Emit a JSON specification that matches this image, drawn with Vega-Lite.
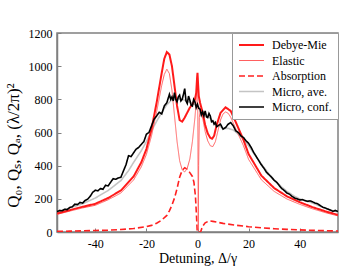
{
  "$schema": "https://vega.github.io/schema/vega-lite/v6.json",
  "width": 281,
  "height": 199,
  "autosize": {"type": "none"},
  "padding": {"left": 57, "top": 33, "right": 18, "bottom": 38},
  "background": "white",
  "config": {
    "font": "Liberation Serif",
    "view": {"stroke": "#808080", "strokeWidth": 1.5},
    "axis": {"labelFont": "Liberation Serif", "titleFont": "Liberation Serif", "labelColor": "#000", "titleColor": "#000", "titleFontWeight": "normal", "grid": false, "domainColor": "#808080", "tickColor": "#808080", "domainWidth": 1.5},
    "legend": {"labelFont": "Liberation Serif", "labelFontSize": 12, "labelColor": "#000"}
  },
  "datasets": {
    "d": [
      {"s": "Debye-Mie", "x": -55, "y": 112}, {"s": "Debye-Mie", "x": -50, "y": 132}, {"s": "Debye-Mie", "x": -45, "y": 152},
      {"s": "Debye-Mie", "x": -40, "y": 170}, {"s": "Debye-Mie", "x": -35, "y": 205}, {"s": "Debye-Mie", "x": -30, "y": 250},
      {"s": "Debye-Mie", "x": -25, "y": 335}, {"s": "Debye-Mie", "x": -22, "y": 420}, {"s": "Debye-Mie", "x": -20, "y": 500},
      {"s": "Debye-Mie", "x": -18, "y": 620}, {"s": "Debye-Mie", "x": -16, "y": 780}, {"s": "Debye-Mie", "x": -14, "y": 960},
      {"s": "Debye-Mie", "x": -13, "y": 1045}, {"s": "Debye-Mie", "x": -12, "y": 1085}, {"s": "Debye-Mie", "x": -11, "y": 1070},
      {"s": "Debye-Mie", "x": -10, "y": 1000}, {"s": "Debye-Mie", "x": -9, "y": 880}, {"s": "Debye-Mie", "x": -8, "y": 760},
      {"s": "Debye-Mie", "x": -7, "y": 675}, {"s": "Debye-Mie", "x": -6, "y": 665}, {"s": "Debye-Mie", "x": -5, "y": 690},
      {"s": "Debye-Mie", "x": -4, "y": 720}, {"s": "Debye-Mie", "x": -3, "y": 750}, {"s": "Debye-Mie", "x": -2, "y": 770},
      {"s": "Debye-Mie", "x": -1, "y": 800}, {"s": "Debye-Mie", "x": -0.5, "y": 840}, {"s": "Debye-Mie", "x": -0.2, "y": 920},
      {"s": "Debye-Mie", "x": 0, "y": 960}, {"s": "Debye-Mie", "x": 0.2, "y": 900}, {"s": "Debye-Mie", "x": 0.5, "y": 820},
      {"s": "Debye-Mie", "x": 1, "y": 780}, {"s": "Debye-Mie", "x": 2, "y": 720}, {"s": "Debye-Mie", "x": 3, "y": 645},
      {"s": "Debye-Mie", "x": 4, "y": 595}, {"s": "Debye-Mie", "x": 5, "y": 568}, {"s": "Debye-Mie", "x": 5.7, "y": 562},
      {"s": "Debye-Mie", "x": 6.5, "y": 580}, {"s": "Debye-Mie", "x": 7.5, "y": 645}, {"s": "Debye-Mie", "x": 9, "y": 718},
      {"s": "Debye-Mie", "x": 11, "y": 752}, {"s": "Debye-Mie", "x": 13, "y": 730}, {"s": "Debye-Mie", "x": 15, "y": 662},
      {"s": "Debye-Mie", "x": 18, "y": 555}, {"s": "Debye-Mie", "x": 20, "y": 470}, {"s": "Debye-Mie", "x": 25, "y": 340},
      {"s": "Debye-Mie", "x": 30, "y": 265}, {"s": "Debye-Mie", "x": 35, "y": 215}, {"s": "Debye-Mie", "x": 40, "y": 180},
      {"s": "Debye-Mie", "x": 45, "y": 150}, {"s": "Debye-Mie", "x": 50, "y": 125}, {"s": "Debye-Mie", "x": 55, "y": 103},

      {"s": "Elastic", "x": -55, "y": 106}, {"s": "Elastic", "x": -50, "y": 126}, {"s": "Elastic", "x": -45, "y": 145},
      {"s": "Elastic", "x": -40, "y": 161}, {"s": "Elastic", "x": -35, "y": 194}, {"s": "Elastic", "x": -30, "y": 235},
      {"s": "Elastic", "x": -25, "y": 314}, {"s": "Elastic", "x": -22, "y": 393}, {"s": "Elastic", "x": -20, "y": 468},
      {"s": "Elastic", "x": -18, "y": 580}, {"s": "Elastic", "x": -16, "y": 725}, {"s": "Elastic", "x": -14, "y": 885},
      {"s": "Elastic", "x": -13, "y": 950}, {"s": "Elastic", "x": -12, "y": 982}, {"s": "Elastic", "x": -11, "y": 955},
      {"s": "Elastic", "x": -10, "y": 855}, {"s": "Elastic", "x": -9, "y": 700}, {"s": "Elastic", "x": -8, "y": 545},
      {"s": "Elastic", "x": -7, "y": 430}, {"s": "Elastic", "x": -6, "y": 375}, {"s": "Elastic", "x": -5, "y": 362},
      {"s": "Elastic", "x": -4, "y": 385}, {"s": "Elastic", "x": -3, "y": 440}, {"s": "Elastic", "x": -2, "y": 545},
      {"s": "Elastic", "x": -1, "y": 690}, {"s": "Elastic", "x": -0.5, "y": 790}, {"s": "Elastic", "x": -0.2, "y": 900},
      {"s": "Elastic", "x": 0, "y": 955}, {"s": "Elastic", "x": 0.15, "y": 600}, {"s": "Elastic", "x": 0.3, "y": 10},
      {"s": "Elastic", "x": 0.45, "y": 400}, {"s": "Elastic", "x": 0.7, "y": 690}, {"s": "Elastic", "x": 1.2, "y": 745},
      {"s": "Elastic", "x": 2, "y": 690}, {"s": "Elastic", "x": 3, "y": 605}, {"s": "Elastic", "x": 4, "y": 550},
      {"s": "Elastic", "x": 5, "y": 520}, {"s": "Elastic", "x": 6, "y": 515}, {"s": "Elastic", "x": 7, "y": 545},
      {"s": "Elastic", "x": 8, "y": 610}, {"s": "Elastic", "x": 9, "y": 675}, {"s": "Elastic", "x": 10, "y": 712},
      {"s": "Elastic", "x": 11, "y": 724}, {"s": "Elastic", "x": 12, "y": 716}, {"s": "Elastic", "x": 13, "y": 692},
      {"s": "Elastic", "x": 15, "y": 622}, {"s": "Elastic", "x": 18, "y": 520}, {"s": "Elastic", "x": 20, "y": 438},
      {"s": "Elastic", "x": 25, "y": 315}, {"s": "Elastic", "x": 30, "y": 245}, {"s": "Elastic", "x": 35, "y": 199},
      {"s": "Elastic", "x": 40, "y": 167}, {"s": "Elastic", "x": 45, "y": 140}, {"s": "Elastic", "x": 50, "y": 117},
      {"s": "Elastic", "x": 55, "y": 97},

      {"s": "Absorption", "x": -55, "y": 4}, {"s": "Absorption", "x": -50, "y": 5}, {"s": "Absorption", "x": -45, "y": 7},
      {"s": "Absorption", "x": -40, "y": 9}, {"s": "Absorption", "x": -35, "y": 11}, {"s": "Absorption", "x": -30, "y": 15},
      {"s": "Absorption", "x": -25, "y": 21}, {"s": "Absorption", "x": -20, "y": 32}, {"s": "Absorption", "x": -18, "y": 40},
      {"s": "Absorption", "x": -16, "y": 53}, {"s": "Absorption", "x": -14, "y": 72}, {"s": "Absorption", "x": -12, "y": 100},
      {"s": "Absorption", "x": -11, "y": 128}, {"s": "Absorption", "x": -10, "y": 162}, {"s": "Absorption", "x": -9, "y": 205},
      {"s": "Absorption", "x": -8, "y": 262}, {"s": "Absorption", "x": -7, "y": 330}, {"s": "Absorption", "x": -6, "y": 372},
      {"s": "Absorption", "x": -5, "y": 388}, {"s": "Absorption", "x": -4, "y": 378}, {"s": "Absorption", "x": -3, "y": 358},
      {"s": "Absorption", "x": -2, "y": 335}, {"s": "Absorption", "x": -1.4, "y": 300}, {"s": "Absorption", "x": -0.8, "y": 215},
      {"s": "Absorption", "x": -0.4, "y": 100}, {"s": "Absorption", "x": -0.1, "y": 0}, {"s": "Absorption", "x": 1.2, "y": 0},
      {"s": "Absorption", "x": 2, "y": 35}, {"s": "Absorption", "x": 3, "y": 55}, {"s": "Absorption", "x": 4.5, "y": 67},
      {"s": "Absorption", "x": 6, "y": 64}, {"s": "Absorption", "x": 8, "y": 58}, {"s": "Absorption", "x": 10, "y": 52},
      {"s": "Absorption", "x": 15, "y": 41}, {"s": "Absorption", "x": 20, "y": 32}, {"s": "Absorption", "x": 25, "y": 25},
      {"s": "Absorption", "x": 30, "y": 20}, {"s": "Absorption", "x": 35, "y": 16}, {"s": "Absorption", "x": 40, "y": 13},
      {"s": "Absorption", "x": 45, "y": 10}, {"s": "Absorption", "x": 50, "y": 8}, {"s": "Absorption", "x": 55, "y": 6},

      {"s": "Micro, ave.", "x": -55, "y": 120}, {"s": "Micro, ave.", "x": -50, "y": 145}, {"s": "Micro, ave.", "x": -45, "y": 170},
      {"s": "Micro, ave.", "x": -40, "y": 205}, {"s": "Micro, ave.", "x": -35, "y": 250}, {"s": "Micro, ave.", "x": -30, "y": 310},
      {"s": "Micro, ave.", "x": -27, "y": 370}, {"s": "Micro, ave.", "x": -25, "y": 420}, {"s": "Micro, ave.", "x": -22, "y": 490},
      {"s": "Micro, ave.", "x": -20, "y": 545}, {"s": "Micro, ave.", "x": -18, "y": 610}, {"s": "Micro, ave.", "x": -16, "y": 668},
      {"s": "Micro, ave.", "x": -14, "y": 720}, {"s": "Micro, ave.", "x": -12, "y": 768}, {"s": "Micro, ave.", "x": -10, "y": 798},
      {"s": "Micro, ave.", "x": -8, "y": 805}, {"s": "Micro, ave.", "x": -6, "y": 800}, {"s": "Micro, ave.", "x": -4, "y": 790},
      {"s": "Micro, ave.", "x": -2, "y": 775}, {"s": "Micro, ave.", "x": 0, "y": 760}, {"s": "Micro, ave.", "x": 2, "y": 730},
      {"s": "Micro, ave.", "x": 4, "y": 700}, {"s": "Micro, ave.", "x": 6, "y": 670}, {"s": "Micro, ave.", "x": 8, "y": 645},
      {"s": "Micro, ave.", "x": 10, "y": 625}, {"s": "Micro, ave.", "x": 12, "y": 625}, {"s": "Micro, ave.", "x": 14, "y": 615},
      {"s": "Micro, ave.", "x": 16, "y": 590}, {"s": "Micro, ave.", "x": 18, "y": 560}, {"s": "Micro, ave.", "x": 20, "y": 520},
      {"s": "Micro, ave.", "x": 22, "y": 475}, {"s": "Micro, ave.", "x": 25, "y": 410}, {"s": "Micro, ave.", "x": 28, "y": 350},
      {"s": "Micro, ave.", "x": 30, "y": 315}, {"s": "Micro, ave.", "x": 33, "y": 270}, {"s": "Micro, ave.", "x": 35, "y": 245},
      {"s": "Micro, ave.", "x": 38, "y": 215}, {"s": "Micro, ave.", "x": 40, "y": 200}, {"s": "Micro, ave.", "x": 43, "y": 185},
      {"s": "Micro, ave.", "x": 45, "y": 175}, {"s": "Micro, ave.", "x": 48, "y": 155}, {"s": "Micro, ave.", "x": 50, "y": 143},
      {"s": "Micro, ave.", "x": 53, "y": 128}, {"s": "Micro, ave.", "x": 55, "y": 120},

      {"s": "Micro, conf.", "x": -55, "y": 122}, {"s": "Micro, conf.", "x": -54, "y": 130}, {"s": "Micro, conf.", "x": -53, "y": 128},
      {"s": "Micro, conf.", "x": -52, "y": 137}, {"s": "Micro, conf.", "x": -51, "y": 135}, {"s": "Micro, conf.", "x": -50, "y": 148},
      {"s": "Micro, conf.", "x": -49, "y": 152}, {"s": "Micro, conf.", "x": -48, "y": 168}, {"s": "Micro, conf.", "x": -47, "y": 165},
      {"s": "Micro, conf.", "x": -46, "y": 178}, {"s": "Micro, conf.", "x": -45, "y": 174}, {"s": "Micro, conf.", "x": -44, "y": 190},
      {"s": "Micro, conf.", "x": -43, "y": 198}, {"s": "Micro, conf.", "x": -42, "y": 215}, {"s": "Micro, conf.", "x": -41, "y": 240},
      {"s": "Micro, conf.", "x": -40, "y": 252}, {"s": "Micro, conf.", "x": -39, "y": 248}, {"s": "Micro, conf.", "x": -38, "y": 262},
      {"s": "Micro, conf.", "x": -37, "y": 258}, {"s": "Micro, conf.", "x": -36, "y": 282}, {"s": "Micro, conf.", "x": -35, "y": 278},
      {"s": "Micro, conf.", "x": -34, "y": 300}, {"s": "Micro, conf.", "x": -33, "y": 322}, {"s": "Micro, conf.", "x": -32, "y": 318},
      {"s": "Micro, conf.", "x": -31, "y": 326}, {"s": "Micro, conf.", "x": -30, "y": 330}, {"s": "Micro, conf.", "x": -29, "y": 368},
      {"s": "Micro, conf.", "x": -28, "y": 405}, {"s": "Micro, conf.", "x": -27, "y": 460}, {"s": "Micro, conf.", "x": -26, "y": 455},
      {"s": "Micro, conf.", "x": -25, "y": 478}, {"s": "Micro, conf.", "x": -24, "y": 500}, {"s": "Micro, conf.", "x": -23, "y": 510},
      {"s": "Micro, conf.", "x": -22, "y": 528}, {"s": "Micro, conf.", "x": -21, "y": 545}, {"s": "Micro, conf.", "x": -20, "y": 590},
      {"s": "Micro, conf.", "x": -19, "y": 600}, {"s": "Micro, conf.", "x": -18, "y": 640}, {"s": "Micro, conf.", "x": -17, "y": 680},
      {"s": "Micro, conf.", "x": -16, "y": 700}, {"s": "Micro, conf.", "x": -15, "y": 722}, {"s": "Micro, conf.", "x": -14, "y": 712},
      {"s": "Micro, conf.", "x": -13, "y": 760}, {"s": "Micro, conf.", "x": -12, "y": 780}, {"s": "Micro, conf.", "x": -11.5, "y": 805},
      {"s": "Micro, conf.", "x": -11, "y": 830}, {"s": "Micro, conf.", "x": -10.5, "y": 800}, {"s": "Micro, conf.", "x": -10, "y": 815},
      {"s": "Micro, conf.", "x": -9.5, "y": 790}, {"s": "Micro, conf.", "x": -9, "y": 840}, {"s": "Micro, conf.", "x": -8.5, "y": 800},
      {"s": "Micro, conf.", "x": -8, "y": 785}, {"s": "Micro, conf.", "x": -7.5, "y": 815}, {"s": "Micro, conf.", "x": -7, "y": 825},
      {"s": "Micro, conf.", "x": -6.5, "y": 790}, {"s": "Micro, conf.", "x": -6, "y": 800}, {"s": "Micro, conf.", "x": -5.5, "y": 830},
      {"s": "Micro, conf.", "x": -5, "y": 865}, {"s": "Micro, conf.", "x": -4.5, "y": 790}, {"s": "Micro, conf.", "x": -4, "y": 775},
      {"s": "Micro, conf.", "x": -3.5, "y": 820}, {"s": "Micro, conf.", "x": -3, "y": 795}, {"s": "Micro, conf.", "x": -2.5, "y": 765},
      {"s": "Micro, conf.", "x": -2, "y": 760}, {"s": "Micro, conf.", "x": -1.5, "y": 800}, {"s": "Micro, conf.", "x": -1, "y": 785},
      {"s": "Micro, conf.", "x": -0.5, "y": 750}, {"s": "Micro, conf.", "x": 0, "y": 770}, {"s": "Micro, conf.", "x": 0.5, "y": 745},
      {"s": "Micro, conf.", "x": 1, "y": 740}, {"s": "Micro, conf.", "x": 1.5, "y": 705}, {"s": "Micro, conf.", "x": 2, "y": 725},
      {"s": "Micro, conf.", "x": 2.5, "y": 700}, {"s": "Micro, conf.", "x": 3, "y": 730}, {"s": "Micro, conf.", "x": 3.5, "y": 695},
      {"s": "Micro, conf.", "x": 4, "y": 690}, {"s": "Micro, conf.", "x": 4.5, "y": 715}, {"s": "Micro, conf.", "x": 5, "y": 700},
      {"s": "Micro, conf.", "x": 5.5, "y": 665}, {"s": "Micro, conf.", "x": 6, "y": 670}, {"s": "Micro, conf.", "x": 6.5, "y": 650},
      {"s": "Micro, conf.", "x": 7, "y": 660}, {"s": "Micro, conf.", "x": 7.5, "y": 635}, {"s": "Micro, conf.", "x": 8, "y": 640},
      {"s": "Micro, conf.", "x": 9, "y": 650}, {"s": "Micro, conf.", "x": 10, "y": 620}, {"s": "Micro, conf.", "x": 11, "y": 630},
      {"s": "Micro, conf.", "x": 12, "y": 650}, {"s": "Micro, conf.", "x": 13, "y": 660}, {"s": "Micro, conf.", "x": 14, "y": 640},
      {"s": "Micro, conf.", "x": 15, "y": 610}, {"s": "Micro, conf.", "x": 16, "y": 600}, {"s": "Micro, conf.", "x": 17, "y": 580},
      {"s": "Micro, conf.", "x": 18, "y": 570}, {"s": "Micro, conf.", "x": 19, "y": 550}, {"s": "Micro, conf.", "x": 20, "y": 535},
      {"s": "Micro, conf.", "x": 21, "y": 510}, {"s": "Micro, conf.", "x": 22, "y": 480}, {"s": "Micro, conf.", "x": 23, "y": 455},
      {"s": "Micro, conf.", "x": 24, "y": 430}, {"s": "Micro, conf.", "x": 25, "y": 405}, {"s": "Micro, conf.", "x": 26, "y": 385},
      {"s": "Micro, conf.", "x": 27, "y": 360}, {"s": "Micro, conf.", "x": 28, "y": 345}, {"s": "Micro, conf.", "x": 29, "y": 330},
      {"s": "Micro, conf.", "x": 30, "y": 312}, {"s": "Micro, conf.", "x": 31, "y": 300}, {"s": "Micro, conf.", "x": 32, "y": 280},
      {"s": "Micro, conf.", "x": 33, "y": 262}, {"s": "Micro, conf.", "x": 34, "y": 250}, {"s": "Micro, conf.", "x": 35, "y": 235},
      {"s": "Micro, conf.", "x": 36, "y": 228}, {"s": "Micro, conf.", "x": 37, "y": 215}, {"s": "Micro, conf.", "x": 38, "y": 205},
      {"s": "Micro, conf.", "x": 39, "y": 200}, {"s": "Micro, conf.", "x": 40, "y": 193}, {"s": "Micro, conf.", "x": 41, "y": 195},
      {"s": "Micro, conf.", "x": 42, "y": 190}, {"s": "Micro, conf.", "x": 43, "y": 185}, {"s": "Micro, conf.", "x": 44, "y": 188},
      {"s": "Micro, conf.", "x": 45, "y": 182}, {"s": "Micro, conf.", "x": 46, "y": 175}, {"s": "Micro, conf.", "x": 47, "y": 170},
      {"s": "Micro, conf.", "x": 48, "y": 160}, {"s": "Micro, conf.", "x": 49, "y": 150}, {"s": "Micro, conf.", "x": 50, "y": 145},
      {"s": "Micro, conf.", "x": 51, "y": 138}, {"s": "Micro, conf.", "x": 52, "y": 132}, {"s": "Micro, conf.", "x": 53, "y": 125},
      {"s": "Micro, conf.", "x": 54, "y": 130}, {"s": "Micro, conf.", "x": 55, "y": 123}
    ]
  },
  "data": {"name": "d"},
  "encoding": {
    "x": {"field": "x", "type": "quantitative", "scale": {"domain": [-55, 55], "nice": false, "zero": false},
      "axis": {"values": [-40, -20, 0, 20, 40], "format": "d", "title": "Detuning, Δ/γ", "titleFont": "Liberation Serif", "labelFont": "Liberation Serif", "titleFontSize": 14, "labelFontSize": 12, "tickSize": -4, "labelPadding": 10, "titlePadding": 2, "labelExpr": "replace(datum.label, '−', '-')", "labelFlush": false}},
    "y": {"field": "y", "type": "quantitative", "scale": {"domain": [0, 1200], "nice": false},
      "axis": {"values": [0, 200, 400, 600, 800, 1000, 1200], "format": "d", "title": "Q₀, Qₛ, Qₐ, (λ/2π)²", "titleFont": "Liberation Serif", "labelFont": "Liberation Serif", "titleFontSize": 17, "labelFontSize": 12, "tickSize": -4, "labelPadding": 9, "titlePadding": 6, "titleY": 112, "labelFlush": false}},
    "color": {"field": "s", "type": "nominal",
      "scale": {"domain": ["Debye-Mie", "Elastic", "Absorption", "Micro, ave.", "Micro, conf."], "range": ["#ff1a1a", "#ff6060", "#ff2020", "#c4c4c4", "#000000"]},
      "legend": {"title": null, "orient": "top-right", "offset": 0, "fillColor": "white", "strokeColor": "#999999", "padding": 6, "symbolType": "M-1,0H4", "symbolSize": 100, "labelOffset": 22, "rowPadding": 3.5, "labelFont": "Liberation Serif", "labelFontSize": 12, "labelColor": "#000"}},
    "strokeDash": {"field": "s", "type": "nominal",
      "scale": {"domain": ["Debye-Mie", "Elastic", "Absorption", "Micro, ave.", "Micro, conf."], "range": [[1, 0], [1, 0], [6, 3], [1, 0], [1, 0]]},
      "legend": {"title": null, "labelFont": "Liberation Serif", "labelFontSize": 12, "symbolType": "M-1,0H4", "symbolSize": 100, "labelOffset": 22, "rowPadding": 3.5}},
    "strokeWidth": {"field": "s", "type": "nominal",
      "scale": {"type": "ordinal", "domain": ["Debye-Mie", "Elastic", "Absorption", "Micro, ave.", "Micro, conf."], "range": [2, 1, 1.6, 1.6, 1.6]},
      "legend": {"title": null, "labelFont": "Liberation Serif", "labelFontSize": 12, "symbolType": "M-1,0H4", "symbolSize": 100, "labelOffset": 22, "rowPadding": 3.5}}
  },
  "layer": [
    {"transform": [{"filter": "datum.s == 'Micro, ave.'"}], "mark": {"type": "line", "clip": true}},
    {"transform": [{"filter": "datum.s == 'Absorption'"}], "mark": {"type": "line", "clip": true}},
    {"transform": [{"filter": "datum.s == 'Elastic'"}], "mark": {"type": "line", "clip": true}},
    {"transform": [{"filter": "datum.s == 'Debye-Mie'"}], "mark": {"type": "line", "clip": true}},
    {"transform": [{"filter": "datum.s == 'Micro, conf.'"}], "mark": {"type": "line", "clip": true}}
  ]
}
